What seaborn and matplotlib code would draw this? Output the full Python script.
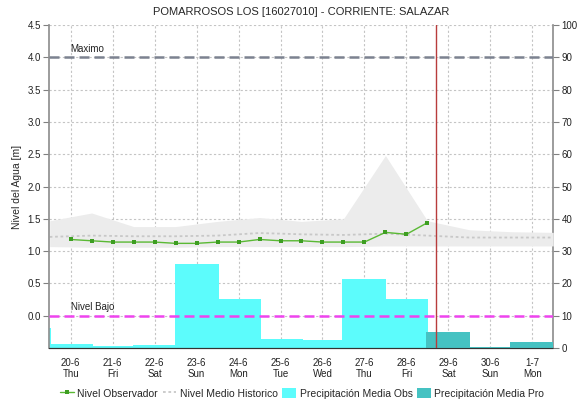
import matplotlib
matplotlib.use("Agg")
import matplotlib.pyplot as plt
import matplotlib.dates as mdates
import numpy as np
import pandas as pd
import seaborn as sns

# ---- data -------------------------------------------------------------
title = "POMARROSOS LOS [16027010] - CORRIENTE: SALAZAR"

# observed stage, every 12 h from 20-6 00:00
obs_start = "2024-06-20 00:00"
obs_level = [1.18, 1.16, 1.14, 1.14, 1.14, 1.12, 1.12, 1.14, 1.14,
             1.18, 1.16, 1.16, 1.14, 1.14, 1.14, 1.29, 1.26, 1.44]

# historical envelope and median, daily at noon from 19-6
hist_start = "2024-06-19 12:00"
hist_upper = [1.47, 1.59, 1.38, 1.38, 1.46, 1.52, 1.46, 1.50, 2.48,
              1.47, 1.33, 1.30, 1.29]
hist_lower = [1.07, 1.06, 1.06, 1.06, 1.07, 1.07, 1.07, 1.07, 1.08,
              1.08, 1.08, 1.08, 1.08]
hist_median = [1.22, 1.24, 1.23, 1.23, 1.24, 1.28, 1.26, 1.25, 1.27,
               1.24, 1.21, 1.21, 1.21]

# daily precipitation (right axis)
precip_obs_days = ["2024-06-19", "2024-06-20", "2024-06-21", "2024-06-22",
                   "2024-06-23", "2024-06-24", "2024-06-25", "2024-06-26",
                   "2024-06-27", "2024-06-28"]
precip_obs = [6.2, 1.1, 0.6, 1.0, 26.0, 15.1, 2.8, 2.5, 21.4, 15.2]
precip_pro_days = ["2024-06-29", "2024-06-30", "2024-07-01"]
precip_pro = [5.0, 0.4, 1.9]

tick_days = ["2024-06-20", "2024-06-21", "2024-06-22", "2024-06-23",
             "2024-06-24", "2024-06-25", "2024-06-26", "2024-06-27",
             "2024-06-28", "2024-06-29", "2024-06-30", "2024-07-01"]
tick_labels = ["20-6\nThu", "21-6\nFri", "22-6\nSat", "23-6\nSun",
               "24-6\nMon", "25-6\nTue", "26-6\nWed", "27-6\nThu",
               "28-6\nFri", "29-6\nSat", "30-6\nSun", "1-7\nMon"]

level_max = 4.0
level_low = 0.0
now_time = "2024-06-28 17:00"

# ---- frames -------------------------------------------------------------
obs_df = pd.DataFrame({
    "time": pd.date_range(obs_start, periods=len(obs_level), freq="12h"),
    "level": obs_level,
})
hist_df = pd.DataFrame({
    "time": pd.date_range(hist_start, periods=len(hist_median), freq="D"),
    "upper": hist_upper, "lower": hist_lower, "median": hist_median,
})
obs_bar = pd.DataFrame({"day": pd.to_datetime(precip_obs_days), "mm": precip_obs})
pro_bar = pd.DataFrame({"day": pd.to_datetime(precip_pro_days), "mm": precip_pro})

# ---- style --------------------------------------------------------------
sns.set_theme(style="white")
plt.rcParams["font.family"] = ["Liberation Sans", "DejaVu Sans"]
plt.rcParams["font.size"] = 7.5

fig = plt.figure(figsize=(5.79, 4.04), dpi=100)
ax = fig.add_axes([0.0851, 0.1386, 0.8705, 0.7995])
axp = ax.twinx()
ax.set_zorder(axp.get_zorder() + 1)
ax.patch.set_visible(False)

grid_kw = dict(color="#c4c4c4", linestyle=(0, (2, 2)), linewidth=0.8)

# precipitation bars on the right axis (behind the level curves)
axp.xaxis.set_visible(True)
axp.set_axisbelow(True)
axp.grid(True, axis="both", **grid_kw)
axp.bar(obs_bar["day"], obs_bar["mm"], width=1.05, color="#5cfcfc",
        edgecolor="none", label="Precipitación Media Obs", zorder=2)
axp.bar(pro_bar["day"], pro_bar["mm"], width=1.05, color="#45c2c2",
        edgecolor="none", label="Precipitación Media Pro", zorder=3)
axp.set_ylim(0, 100)
axp.set_yticks(np.arange(0, 101, 10))
axp.tick_params(axis="x", bottom=False, labelbottom=False)

# historical envelope and median
ax.fill_between(hist_df["time"], hist_df["lower"], hist_df["upper"],
                color="#ececec", linewidth=0, zorder=1)
sns.lineplot(data=hist_df, x="time", y="median", ax=ax, color="#c8c8c8",
             linestyle=(0, (1.5, 1.5)), linewidth=1.3,
             label="Nivel Medio Historico", zorder=2)

# observed stage
sns.lineplot(data=obs_df, x="time", y="level", ax=ax, color="#5ab934",
             marker="s", markersize=3, markeredgewidth=0,
             markerfacecolor="#3e9e22", linewidth=1.0,
             label="Nivel Observador", zorder=4)

# threshold lines
ax.axhline(level_max, color="#7c8290", linestyle=(0, (4, 2)), linewidth=1.8, zorder=3)
ax.axhline(level_low, color="#ee44ee", linestyle=(0, (4, 2)), linewidth=1.8, zorder=3)
x_lab = mdates.date2num(pd.Timestamp(tick_days[0]))
ax.text(x_lab, level_max + 0.05, "Maximo", fontsize=7, color="#222222",
        va="bottom", ha="left", zorder=5)
ax.text(x_lab, level_low + 0.05, "Nivel Bajo", fontsize=7, color="#222222",
        va="bottom", ha="left", zorder=5)

# current time marker
ax.axvline(pd.Timestamp(now_time), color="#b83c3c", linewidth=1.0, zorder=6)

# axes
x0 = mdates.date2num(pd.Timestamp(tick_days[0]))
ax.set_xlim(x0 - 0.51, x0 + 11.5)
ax.set_ylim(-0.5, 4.5)
ax.set_yticks(np.arange(0.0, 4.51, 0.5))
ax.set_yticklabels([f"{v:.1f}" for v in np.arange(0.0, 4.51, 0.5)])
ax.set_xticks([mdates.date2num(pd.Timestamp(d)) for d in tick_days])
ax.set_xticklabels(tick_labels, fontsize=7, linespacing=1.2)
ax.set_xlabel("")
ax.set_ylabel("Nivel del Agua [m]", fontsize=7.5, labelpad=4)
ax.set_title(title, fontsize=8, pad=7)

ax.tick_params(axis="y", left=True, length=4, width=0.8, color="#808080",
               pad=2, labelsize=7, labelcolor="#222222")
ax.tick_params(axis="x", bottom=False, pad=1.0, labelcolor="#222222")
axp.tick_params(axis="y", right=True, length=4, width=0.8, color="#808080",
                pad=2, labelsize=7, labelcolor="#222222")

for a in (ax, axp):
    a.spines["top"].set_visible(False)
    a.spines["left"].set_color("#909090")
    a.spines["right"].set_color("#909090")
    a.spines["bottom"].set_color("#333333")
    a.spines["bottom"].set_linestyle((0, (1, 1)))
    a.spines["bottom"].set_linewidth(0.8)
ax.spines["right"].set_visible(False)
axp.spines["left"].set_visible(False)
axp.yaxis.set_label_position("right")
axp.set_ylabel("")

# legend
h1, l1 = ax.get_legend_handles_labels()
h2, l2 = axp.get_legend_handles_labels()
order = {"Nivel Observador": 0, "Nivel Medio Historico": 1,
         "Precipitación Media Obs": 2, "Precipitación Media Pro": 3}
pairs = sorted(zip(h1 + h2, l1 + l2), key=lambda p: order[p[1]])
if ax.get_legend():
    ax.get_legend().remove()
if axp.get_legend():
    axp.get_legend().remove()
fig.legend([p[0] for p in pairs], [p[1] for p in pairs], loc="center",
           bbox_to_anchor=(0.522, 0.027), ncol=4, frameon=False, fontsize=7.5,
           handlelength=1.3, handleheight=1.2, handletextpad=0.35,
           columnspacing=0.45)

fig.savefig("out.png", dpi=100, facecolor="white")
